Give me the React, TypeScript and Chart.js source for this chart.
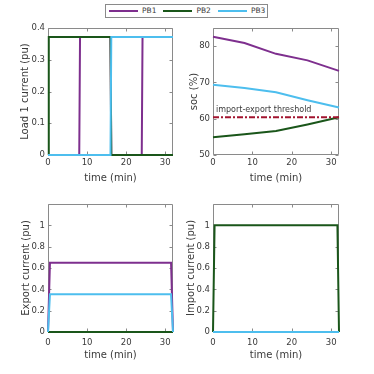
import React, { useEffect, useRef } from "react";
import { Chart, registerables } from "chart.js";

Chart.register(...registerables);

// ---------------- data ----------------
const SERIES = ["PB1", "PB2", "PB3"];
const SERIES_COLORS = ["#7E2F8E", "#1A561A", "#4DBEEE"];
const THRESHOLD_COLOR = "#A2142F";

const X_MIN = 0;
const X_MAX = 32;
const X_STEP = 10;
const X_TITLE = "time (min)";

// Load 1 current (pu)
const LOAD_T_PB1 = [0, 8, 8.2, 16, 16.2, 24, 24.2, 32];
const LOAD_PB1 = [0, 0, 0.372, 0.372, 0, 0, 0.372, 0.372];
const LOAD_T_PB2 = [0, 0.2, 16, 16.2, 32];
const LOAD_PB2 = [0, 0.372, 0.372, 0, 0];
const LOAD_T_PB3 = [0, 16, 16.2, 32];
const LOAD_PB3 = [0, 0, 0.372, 0.372];

// State of charge (%)
const SOC_T = [0, 8, 16, 24, 32];
const SOC_PB1 = [82.6, 80.9, 77.9, 76.1, 73.2];
const SOC_PB2 = [54.9, 55.7, 56.6, 58.4, 60.4];
const SOC_PB3 = [69.4, 68.5, 67.3, 65.1, 63.1];
const THRESHOLD = 60.4;
const THRESHOLD_LABEL = "import-export threshold";

// Export current (pu)
const EXPORT_T = [0, 0.5, 31.5, 32];
const EXPORT_PB1 = [0, 0.65, 0.65, 0];
const EXPORT_PB2 = [0, 0, 0, 0];
const EXPORT_PB3 = [0, 0.355, 0.355, 0];

// Import current (pu)
const IMPORT_T = [0, 0.4, 31.6, 32];
const IMPORT_PB1 = [0, 0, 0, 0];
const IMPORT_PB2 = [0, 1, 1, 0];
const IMPORT_PB3 = [0, 0, 0, 0];

// ---------------- styles ----------------
const FONT = "'DejaVu Sans', Verdana, sans-serif";
const TEXT = "#3a3a3a";
const BOX = "#8a8a8a";
const TICK_LEN = 3;

type Pt = { x: number; y: number };
const toPts = (t: number[], v: number[]): Pt[] => t.map((x, i) => ({ x, y: v[i] }));

const lineDs = (idx: number, t: number[], v: number[]) => ({
  label: SERIES[idx],
  data: toPts(t, v),
  borderColor: SERIES_COLORS[idx],
  backgroundColor: SERIES_COLORS[idx],
  borderWidth: 2,
  pointRadius: 0,
  tension: 0,
  fill: false,
  clip: false as const,
  order: 3 - idx,
});

const axesBox = {
  id: "axesBox",
  beforeDatasetsDraw(chart: any) {
    const { ctx, chartArea: a, scales } = chart;
    const L = Math.round(a.left) + 0.5;
    const R = Math.round(a.right) - 0.5;
    const T = Math.round(a.top) + 0.5;
    const B = Math.round(a.bottom) - 0.5;
    ctx.save();
    ctx.strokeStyle = BOX;
    ctx.lineWidth = 1;
    ctx.beginPath();
    ctx.rect(L, T, R - L, B - T);
    scales.x.ticks.forEach((t: any) => {
      const p = Math.round(scales.x.getPixelForValue(t.value)) + 0.5;
      ctx.moveTo(p, B);
      ctx.lineTo(p, B - TICK_LEN);
      ctx.moveTo(p, T);
      ctx.lineTo(p, T + TICK_LEN);
    });
    scales.y.ticks.forEach((t: any) => {
      const p = Math.round(scales.y.getPixelForValue(t.value)) + 0.5;
      ctx.moveTo(L, p);
      ctx.lineTo(L + TICK_LEN, p);
      ctx.moveTo(R, p);
      ctx.lineTo(R - TICK_LEN, p);
    });
    ctx.stroke();
    ctx.restore();
  },
};

const thresholdLabel = {
  id: "thresholdLabel",
  afterDatasetsDraw(chart: any) {
    const { ctx, scales } = chart;
    ctx.save();
    ctx.font = `8px ${FONT}`;
    ctx.fillStyle = TEXT;
    ctx.textAlign = "left";
    ctx.textBaseline = "middle";
    ctx.fillText(
      THRESHOLD_LABEL,
      scales.x.getPixelForValue(X_MIN) + 3,
      scales.y.getPixelForValue(THRESHOLD) - 7
    );
    ctx.restore();
  },
};

const fmt = (v: any) => String(Number(Number(v).toFixed(2)));

interface PanelSpec {
  left: number;
  top: number;
  width: number;
  height: number;
  yAxisWidth: number;
  xAxisHeight: number;
  padTop: number;
  padRight: number;
  yTitle: string;
  yTitlePad: number;
  xTitlePad: number;
  xTickPad: number;
  yMin: number;
  yMax: number;
  yStep: number;
  yTickMax: number;
  datasets: any[];
  plugins?: any[];
}

function Panel({ spec }: { spec: PanelSpec }) {
  const ref = useRef<HTMLCanvasElement>(null);
  useEffect(() => {
    if (!ref.current) return;
    const chart = new Chart(ref.current, {
      type: "line",
      data: { datasets: spec.datasets },
      plugins: [axesBox, ...(spec.plugins || [])],
      options: {
        animation: false,
        responsive: false,
        devicePixelRatio: 1,
        layout: { padding: { top: spec.padTop, right: spec.padRight, left: 0, bottom: 0 } },
        plugins: { legend: { display: false }, tooltip: { enabled: false } },
        scales: {
          x: {
            type: "linear",
            min: X_MIN,
            max: X_MAX,
            grid: { display: false, drawTicks: false },
            border: { display: false },
            ticks: {
              stepSize: X_STEP,
              includeBounds: false,
              padding: spec.xTickPad,
              color: TEXT,
              maxRotation: 0,
              font: { family: FONT, size: 8.5 },
              callback: fmt,
            },
            title: {
              display: true,
              text: X_TITLE,
              color: TEXT,
              font: { family: FONT, size: 10 },
              padding: { top: 0, bottom: spec.xTitlePad },
            },
            afterFit: (s: any) => {
              s.height = spec.xAxisHeight;
            },
          },
          y: {
            type: "linear",
            min: spec.yMin,
            max: spec.yMax,
            grid: { display: false, drawTicks: false },
            border: { display: false },
            ticks: {
              stepSize: spec.yStep,
              includeBounds: false,
              padding: 3,
              color: TEXT,
              font: { family: FONT, size: 8.5 },
              callback: fmt,
            },
            title: {
              display: true,
              text: spec.yTitle,
              color: TEXT,
              font: { family: FONT, size: 10 },
              padding: { top: spec.yTitlePad, bottom: 0 },
            },
            afterBuildTicks: (s: any) => {
              s.ticks = s.ticks.filter((t: any) => t.value <= spec.yTickMax + 1e-9);
            },
            afterFit: (s: any) => {
              s.width = spec.yAxisWidth;
            },
          },
        },
      } as any,
    });
    return () => chart.destroy();
  }, [spec]);
  return (
    <canvas
      ref={ref}
      width={spec.width}
      height={spec.height}
      style={{ position: "absolute", left: spec.left, top: spec.top, width: spec.width, height: spec.height }}
    />
  );
}

const PANELS: PanelSpec[] = [
  {
    left: 0, top: 20, width: 180, height: 167,
    yAxisWidth: 48, xAxisHeight: 32, padTop: 8, padRight: 7,
    yTitle: "Load 1 current (pu)", yTitlePad: 19, xTitlePad: 3, xTickPad: 3,
    yMin: 0, yMax: 0.4, yStep: 0.1, yTickMax: 0.4,
    datasets: [
      lineDs(0, LOAD_T_PB1, LOAD_PB1),
      lineDs(1, LOAD_T_PB2, LOAD_PB2),
      lineDs(2, LOAD_T_PB3, LOAD_PB3),
    ],
  },
  {
    left: 180, top: 20, width: 194, height: 167,
    yAxisWidth: 33, xAxisHeight: 32, padTop: 8, padRight: 35,
    yTitle: "soc (%)", yTitlePad: 8, xTitlePad: 3, xTickPad: 3,
    yMin: 50, yMax: 85, yStep: 10, yTickMax: 80,
    datasets: [
      lineDs(0, SOC_T, SOC_PB1),
      lineDs(1, SOC_T, SOC_PB2),
      lineDs(2, SOC_T, SOC_PB3),
      {
        label: "threshold",
        data: toPts([X_MIN, X_MAX], [THRESHOLD, THRESHOLD]),
        borderColor: THRESHOLD_COLOR,
        borderWidth: 2,
        borderDash: [6, 2, 2, 2],
        pointRadius: 0,
        fill: false,
        clip: false,
        order: 0,
      },
    ],
    plugins: [thresholdLabel],
  },
  {
    left: 0, top: 187, width: 180, height: 187,
    yAxisWidth: 48, xAxisHeight: 42, padTop: 17, padRight: 7,
    yTitle: "Export current (pu)", yTitlePad: 20, xTitlePad: 13, xTickPad: 6,
    yMin: 0, yMax: 1.2, yStep: 0.2, yTickMax: 1,
    datasets: [
      lineDs(0, EXPORT_T, EXPORT_PB1),
      lineDs(1, EXPORT_T, EXPORT_PB2),
      lineDs(2, EXPORT_T, EXPORT_PB3),
    ],
  },
  {
    left: 180, top: 187, width: 194, height: 187,
    yAxisWidth: 33, xAxisHeight: 42, padTop: 17, padRight: 35,
    yTitle: "Import current (pu)", yTitlePad: 5, xTitlePad: 13, xTickPad: 6,
    yMin: 0, yMax: 1.2, yStep: 0.2, yTickMax: 1,
    datasets: [
      lineDs(0, IMPORT_T, IMPORT_PB1),
      lineDs(1, IMPORT_T, IMPORT_PB2),
      lineDs(2, IMPORT_T, IMPORT_PB3),
    ],
  },
];

function Legend() {
  return (
    <div
      style={{
        position: "absolute",
        left: 105,
        top: 4,
        width: 163,
        height: 14,
        boxSizing: "border-box",
        border: "1px solid #8a8a8a",
        display: "flex",
        alignItems: "center",
        paddingLeft: 3,
        fontFamily: FONT,
        fontSize: 7.5,
        color: TEXT,
        background: "#fff",
      }}
    >
      {SERIES.map((name, i) => (
        <div key={name} style={{ display: "flex", alignItems: "center", marginRight: i < SERIES.length - 1 ? 7 : 0 }}>
          <div style={{ width: 29, height: 2, background: SERIES_COLORS[i], marginRight: 4 }} />
          <span style={{ lineHeight: "10px" }}>{name}</span>
        </div>
      ))}
    </div>
  );
}

export default function App() {
  return (
    <div style={{ position: "fixed", left: 0, top: 0, width: 374, height: 374, background: "#fff", overflow: "hidden" }}>
      {PANELS.map((p, i) => (
        <Panel key={i} spec={p} />
      ))}
      <Legend />
    </div>
  );
}
